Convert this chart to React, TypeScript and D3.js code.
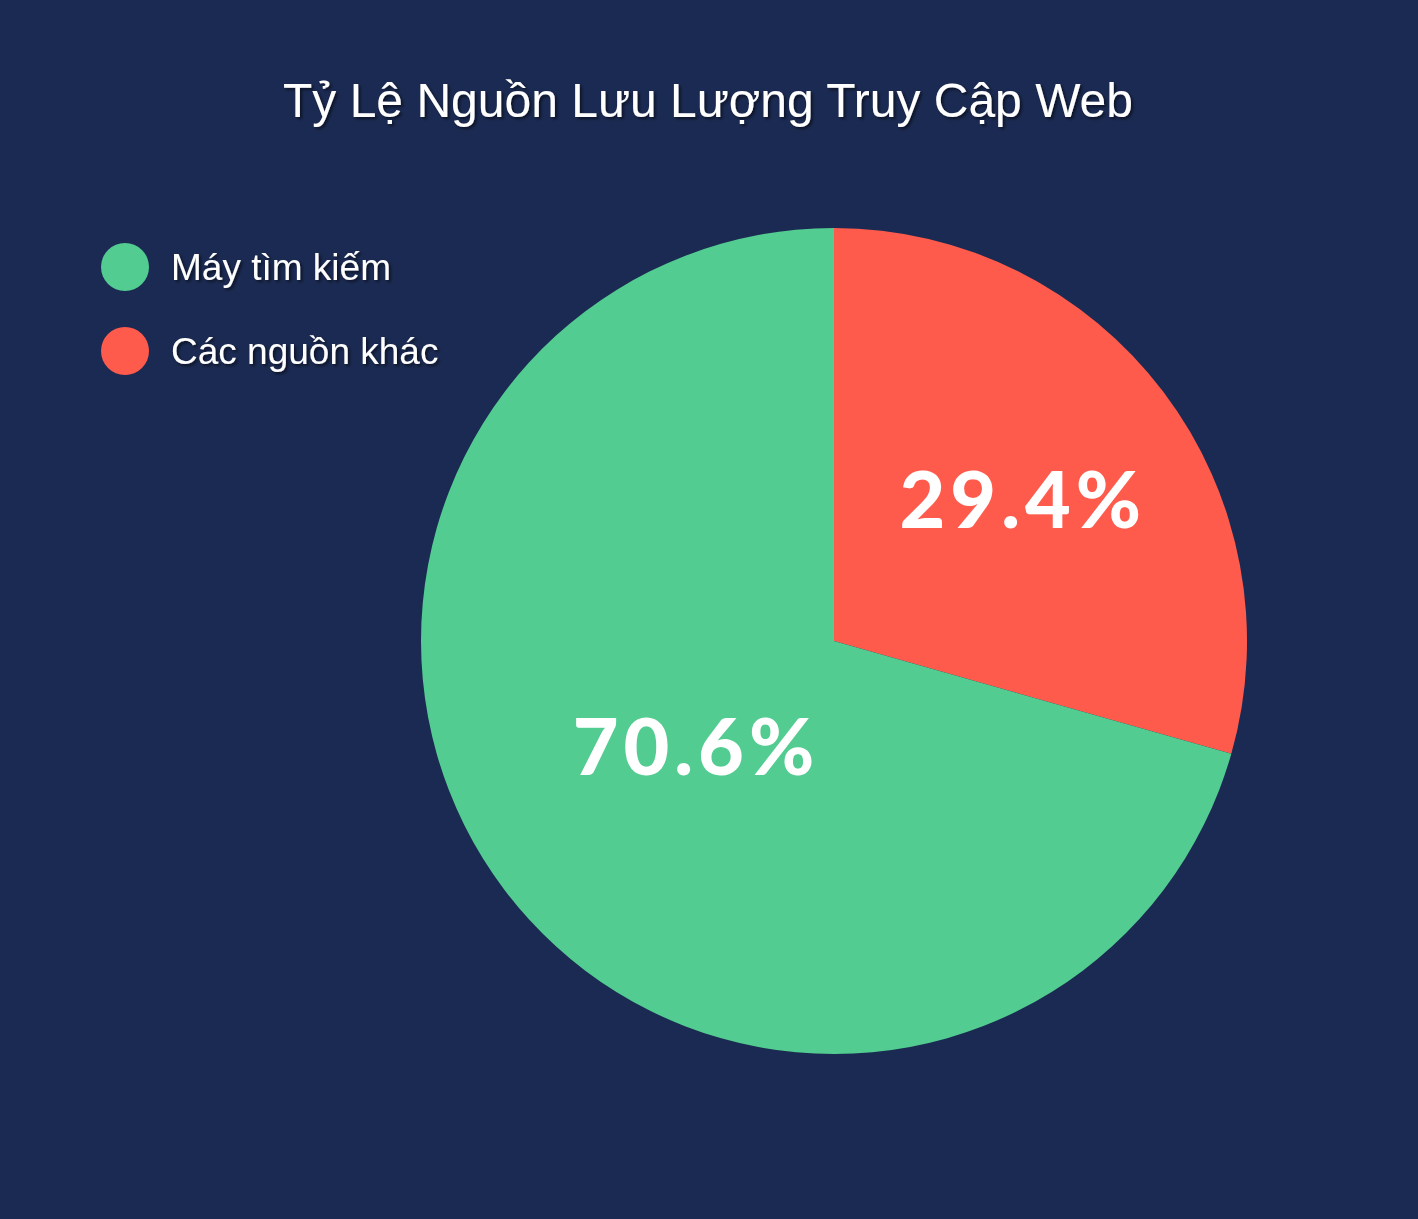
import React from "react";
import * as d3 from "d3";

const categories = ["Các nguồn khác", "Máy tìm kiếm"];
const values = [29.4, 70.6];
const labelRadius = [0.567, 0.425];
const legendOrder = ["Máy tìm kiếm", "Các nguồn khác"];
const title = "Tỷ Lệ Nguồn Lưu Lượng Truy Cập Web";

const W = 1418;
const H = 1219;
const colors: Record<string, string> = {
  "Máy tìm kiếm": "#52cc90",
  "Các nguồn khác": "#ff5b4c",
};

const App: React.FC = () => {
  const cx = 834;
  const cy = 641;
  const radius = 413;

  const pie = d3
    .pie<number>()
    .sort(null)
    .value((d) => d);
  const arcs = pie(values);
  const arc = d3.arc<d3.PieArcDatum<number>>().innerRadius(0).outerRadius(radius);

  const legendY = d3.scalePoint<string>().domain(legendOrder).range([267, 351]);

  return (
    <svg width={W} height={H} style={{ position: "absolute", left: 0, top: 0, display: "block" }}>
      <defs>
        <filter id="shadow" x="-10%" y="-30%" width="120%" height="160%">
          <feDropShadow dx="2" dy="2" stdDeviation="1.5" floodColor="#000" floodOpacity="0.55" />
        </filter>
      </defs>
      <rect width={W} height={H} fill="#1b2a52" />
      <text
        x={708}
        y={117}
        textAnchor="middle"
        fontFamily="'Liberation Sans', Arial, sans-serif"
        fontSize={48}
        fill="#fff"
        filter="url(#shadow)"
      >
        {title}
      </text>

      {legendOrder.map((name) => (
        <g key={name} transform={`translate(0, ${legendY(name)})`}>
          <circle cx={125} cy={0} r={24} fill={colors[name]} />
          <text
            x={171}
            y={13}
            fontFamily="'Liberation Sans', Arial, sans-serif"
            fontSize={37}
            fill="#fff"
            filter="url(#shadow)"
          >
            {name}
          </text>
        </g>
      ))}

      <g transform={`translate(${cx}, ${cy})`}>
        {arcs.map((a, i) => (
          <path key={categories[i]} d={arc(a) || ""} fill={colors[categories[i]]} />
        ))}
        {arcs.map((a, i) => {
          const r = radius * labelRadius[i];
          const [lx, ly] = d3.arc<d3.PieArcDatum<number>>().innerRadius(r).outerRadius(r).centroid(a);
          return (
            <text
              key={categories[i] + "-l"}
              x={lx + 2}
              y={ly}
              dy="0.36em"
              textAnchor="middle"
              fontFamily="Lato, 'Open Sans', sans-serif"
              fontWeight={900}
              fontSize={79}
              letterSpacing={5}
              fill="#fff"
            >
              {values[i].toFixed(1)}%
            </text>
          );
        })}
      </g>
    </svg>
  );
};

export default App;
